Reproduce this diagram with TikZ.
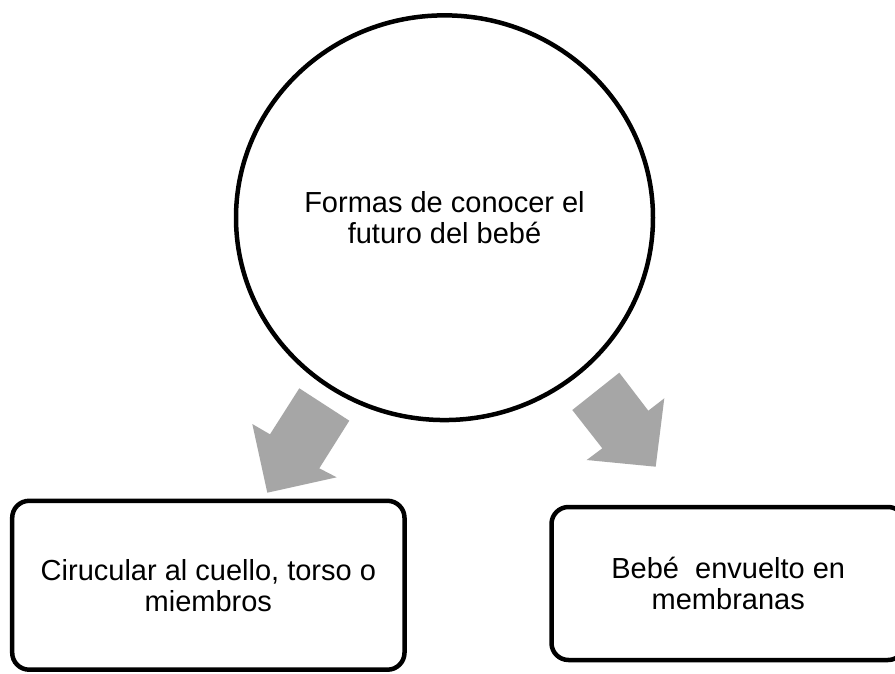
\documentclass[tikz,border=0pt]{standalone}
\usepackage{fontspec}
\setmainfont{Liberation Sans}
\usetikzlibrary{shapes.geometric}
\definecolor{arrowgray}{HTML}{A6A6A6}
\begin{document}
\begin{tikzpicture}[x=1pt,y=-1pt,
  txt/.style={font=\fontsize{29}{31}\selectfont, align=center},
  frame/.style={draw, line width=4.5pt, rounded corners=17pt, inner sep=0pt, txt},
  blockarrow/.style={fill=arrowgray, draw=none}]
\useasboundingbox (0,0) rectangle (895,673);
\clip (0,0) rectangle (895,673);
\fill[white] (0,0) rectangle (895,673);
% central circle
\node[ellipse, draw, line width=4.5pt, inner sep=0pt, minimum width=417pt, minimum height=404.7pt, txt]
  (c) at (444.5,217.7) {Formas de conocer el\\futuro del bebé};
% boxes
\node[frame, minimum width=392.3pt, minimum height=168.9pt]
  (l) at (208.35,585.25) {Cirucular al cuello, torso o\\miembros};
\node[frame, minimum width=353.5pt, minimum height=153pt]
  (r) at (728.25,583.5) {Bebé~ envuelto en\\membranas};
% block arrows
\fill[blockarrow] (299.3,388.3) -- (349.3,420.7) -- (319.3,468.3) -- (336.7,477.3)
  -- (267.3,492.7) -- (252.3,424) -- (270,434.3) -- cycle;
\fill[blockarrow] (619.3,372.7) -- (572.3,410) -- (602.3,448.3) -- (586.7,460)
  -- (655.7,466.7) -- (664.3,398.3) -- (648.3,410.7) -- cycle;
\end{tikzpicture}
\end{document}
